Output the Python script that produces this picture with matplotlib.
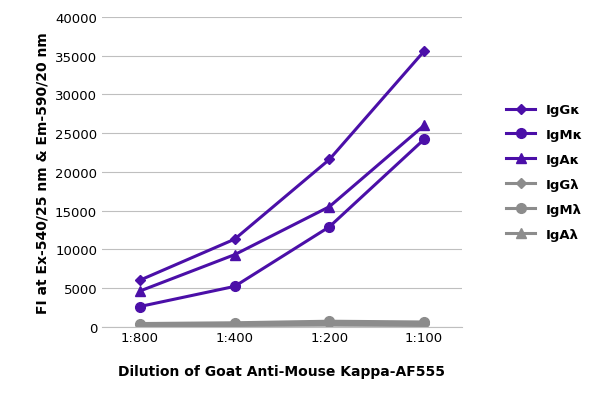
import matplotlib
matplotlib.use("Agg")
import matplotlib.pyplot as plt

dilutions = ["1:800", "1:400", "1:200", "1:100"]
igg_k = [6000, 11300, 21600, 35600]
igm_k = [2600, 5200, 12900, 24200]
iga_k = [4600, 9300, 15500, 26000]
igg_l = [300, 400, 500, 400]
igm_l = [400, 500, 700, 600]
iga_l = [100, 150, 200, 150]

purple = "#4B0FA8"
gray = "#8C8C8C"

fig = plt.figure(figsize=(6, 4.02), dpi=100)
ax = fig.add_axes([0.17, 0.185, 0.60, 0.77])

x = range(len(dilutions))
series = [
    ("IgGκ", igg_k, purple, "D", 5),
    ("IgMκ", igm_k, purple, "o", 7),
    ("IgAκ", iga_k, purple, "^", 7),
    ("IgGλ", igg_l, gray, "D", 5),
    ("IgMλ", igm_l, gray, "o", 7),
    ("IgAλ", iga_l, gray, "^", 7),
]
for name, vals, col, mk, ms in series:
    ax.plot(x, vals, color=col, marker=mk, markersize=ms, linewidth=2.2, label=name)

ax.set_ylim(0, 40000)
ax.set_yticks(range(0, 40001, 5000))
ax.set_xlim(-0.4, 3.4)
ax.set_xticks(list(x))
ax.set_xticklabels(dilutions)
ax.grid(axis="y", color="#BFBFBF", linewidth=0.8)
ax.set_axisbelow(True)
for s in ["top", "right", "left"]:
    ax.spines[s].set_visible(False)
ax.spines["bottom"].set_color("#BFBFBF")
ax.tick_params(length=0, labelsize=9.5)
ax.set_xlabel("Dilution of Goat Anti-Mouse Kappa-AF555", fontsize=10, fontweight="bold", labelpad=14)
ax.set_ylabel("FI at Ex-540/25 nm & Em-590/20 nm", fontsize=10, fontweight="bold")
ax.legend(loc="center left", bbox_to_anchor=(1.09, 0.5), frameon=False,
          prop={"weight": "bold", "size": 9.5}, handlelength=2.2, labelspacing=0.9)

fig.savefig("out.png", dpi=100)
